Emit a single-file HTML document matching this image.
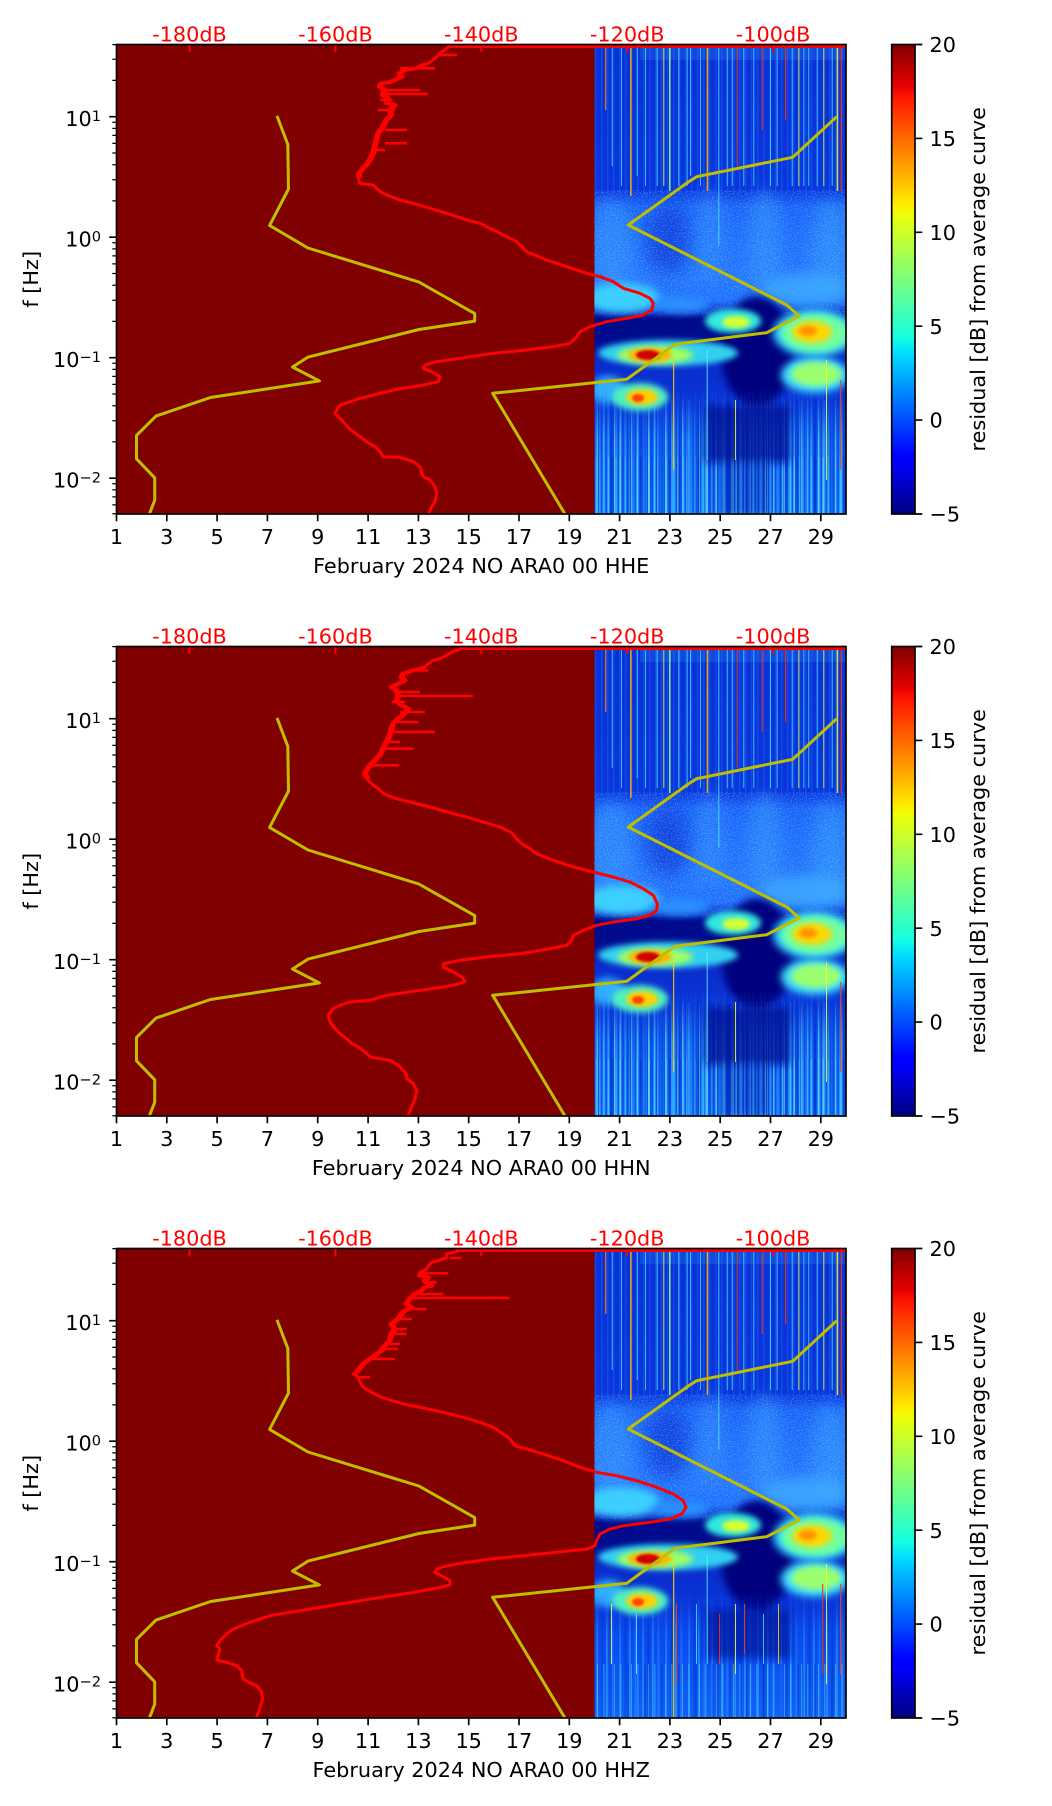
<!DOCTYPE html>
<html><head><meta charset="utf-8"><style>
html,body{margin:0;padding:0;background:#fff;}
svg{display:block;}
text{font-family:"DejaVu Sans","Liberation Sans",sans-serif;font-size:20.8px;}
</style></head><body>
<svg width="1052" height="1806" viewBox="0 0 1052 1806" xmlns="http://www.w3.org/2000/svg">
<defs>
<clipPath id="axclip"><rect x="116.5" y="44.5" width="729.5" height="469.5"/></clipPath>
<clipPath id="specclip"><rect x="594.4" y="44.5" width="251.6" height="469.5"/></clipPath>
<filter id="b1" x="-50%" y="-50%" width="200%" height="200%"><feGaussianBlur stdDeviation="1.2"/></filter>
<filter id="b2" x="-50%" y="-50%" width="200%" height="200%"><feGaussianBlur stdDeviation="2"/></filter>
<filter id="b3" x="-50%" y="-50%" width="200%" height="200%"><feGaussianBlur stdDeviation="3"/></filter>
<filter id="b4" x="-50%" y="-50%" width="200%" height="200%"><feGaussianBlur stdDeviation="4"/></filter>
<filter id="b6" x="-50%" y="-50%" width="200%" height="200%"><feGaussianBlur stdDeviation="6"/></filter>
<filter id="b8" x="-50%" y="-50%" width="200%" height="200%"><feGaussianBlur stdDeviation="8"/></filter>
<filter id="noiseL" x="0" y="0" width="100%" height="100%"><feTurbulence type="fractalNoise" baseFrequency="0.8" numOctaves="1" seed="5"/><feColorMatrix type="matrix" values="0 0 0 0 0.25  0 0 0 0 0.7  0 0 0 0 1  4 0 0 0 -2"/></filter>
<filter id="noiseD" x="0" y="0" width="100%" height="100%"><feTurbulence type="fractalNoise" baseFrequency="0.8" numOctaves="1" seed="11"/><feColorMatrix type="matrix" values="0 0 0 0 0  0 0 0 0 0.1  0 0 0 0 0.75  4 0 0 0 -2.1"/></filter>
<linearGradient id="specbg" x1="0" y1="44.5" x2="0" y2="514" gradientUnits="userSpaceOnUse">
<stop offset="0" stop-color="#0a2ed8"/>
<stop offset="0.31" stop-color="#0b34de"/>
<stop offset="0.345" stop-color="#1c64fa"/>
<stop offset="0.50" stop-color="#2878ff"/>
<stop offset="0.545" stop-color="#2070ff"/>
<stop offset="0.57" stop-color="#0a2ac0"/>
<stop offset="0.585" stop-color="#000a8a"/>
<stop offset="0.63" stop-color="#000c90"/>
<stop offset="0.68" stop-color="#0a2ccc"/>
<stop offset="0.77" stop-color="#0a36d8"/>
<stop offset="0.87" stop-color="#1262f0"/>
<stop offset="1" stop-color="#22a0ff"/>
</linearGradient>
<linearGradient id="fadeG" x1="0" y1="388" x2="0" y2="440" gradientUnits="userSpaceOnUse">
<stop offset="0" stop-color="#000"/>
<stop offset="1" stop-color="#fff"/>
</linearGradient>
<mask id="fadeLow" maskUnits="userSpaceOnUse" x="590" y="380" width="260" height="140">
<rect x="590" y="380" width="260" height="140" fill="url(#fadeG)"/>
</mask>
<linearGradient id="jet" x1="0" y1="1" x2="0" y2="0">
<stop offset="0" stop-color="#000080"/>
<stop offset="0.11" stop-color="#0000ff"/>
<stop offset="0.125" stop-color="#0000ff"/>
<stop offset="0.34" stop-color="#00dbff"/>
<stop offset="0.375" stop-color="#14ffe2"/>
<stop offset="0.5" stop-color="#7bff7b"/>
<stop offset="0.64" stop-color="#eeff08"/>
<stop offset="0.66" stop-color="#ffec00"/>
<stop offset="0.89" stop-color="#ff1300"/>
<stop offset="0.91" stop-color="#e80000"/>
<stop offset="1" stop-color="#800000"/>
</linearGradient>
<pattern id="streak" x="594.4" y="0" width="29" height="20" patternUnits="userSpaceOnUse">
<rect width="29" height="20" fill="#0a40e8"/>
<rect x="1" width="2" height="20" fill="#30c0ff"/>
<rect x="5" width="1" height="20" fill="#60e8ff"/>
<rect x="8" width="3" height="20" fill="#1a80ff"/>
<rect x="13" width="2" height="20" fill="#40d8ff"/>
<rect x="17" width="1" height="20" fill="#0020c0"/>
<rect x="20" width="3" height="20" fill="#30b0ff"/>
<rect x="25" width="1.5" height="20" fill="#70f0e0"/>
</pattern>
<pattern id="streak2" x="600" y="0" width="17" height="20" patternUnits="userSpaceOnUse">
<rect x="3" width="1.5" height="20" fill="#50e0ff"/>
<rect x="10" width="2" height="20" fill="#0030d0"/>
<rect x="14" width="1" height="20" fill="#80ffd0"/>
</pattern>
<pattern id="streakB" x="594.4" y="0" width="23" height="20" patternUnits="userSpaceOnUse">
<rect width="23" height="20" fill="#0848f0"/>
<rect x="2" width="1.5" height="20" fill="#2a90ff"/>
<rect x="7" width="2" height="20" fill="#0030d8"/>
<rect x="12" width="1" height="20" fill="#40c8ff"/>
<rect x="17" width="2" height="20" fill="#1a70ff"/>
</pattern>
<pattern id="topl" x="594.4" y="0" width="6" height="20" patternUnits="userSpaceOnUse">
<rect x="1" width="0.8" height="20" fill="#30c0ff"/>
</pattern>

<g id="spec" clip-path="url(#specclip)">
<rect x="594.4" y="44.5" width="251.6" height="469.5" fill="url(#specbg)"/>
<rect x="594.4" y="46" width="251.6" height="148" fill="url(#topl)" opacity="0.3"/>
<rect x="640" y="46" width="206" height="14" fill="#3aa0ff" opacity="0.22"/>
<!-- middle texture -->
<ellipse cx="612" cy="245" rx="22" ry="45" fill="#3a9cff" opacity=".55" filter="url(#b8)"/>
<ellipse cx="668" cy="240" rx="22" ry="35" fill="#0836d8" opacity=".7" filter="url(#b8)"/>
<ellipse cx="710" cy="235" rx="14" ry="45" fill="#3a98ff" opacity=".45" filter="url(#b8)"/>
<ellipse cx="765" cy="240" rx="16" ry="50" fill="#3aa0ff" opacity=".5" filter="url(#b8)"/>
<ellipse cx="830" cy="250" rx="18" ry="50" fill="#3aa8ff" opacity=".5" filter="url(#b8)"/>
<rect x="594.4" y="46" width="252" height="268" fill="#fff" filter="url(#noiseD)" opacity="0.45"/>
<rect x="594.4" y="190" width="252" height="125" fill="#fff" filter="url(#noiseL)" opacity="0.4"/>
<!-- cyan band -->
<ellipse cx="622" cy="298" rx="38" ry="15" fill="#3ccfff" filter="url(#b4)"/>
<ellipse cx="680" cy="305" rx="30" ry="8" fill="#2a90ff" filter="url(#b4)"/>
<ellipse cx="805" cy="290" rx="45" ry="16" fill="#40b0ff" opacity=".75" filter="url(#b6)"/>
<!-- navy middle -->
<ellipse cx="757" cy="352" rx="36" ry="56" fill="#00007e" filter="url(#b4)"/>
<!-- blobs -->
<ellipse cx="608" cy="390" rx="18" ry="14" fill="#30b0ff" filter="url(#b4)"/>
<ellipse cx="733" cy="321" rx="28" ry="12" fill="#30e8e0" filter="url(#b3)"/>
<ellipse cx="736" cy="322" rx="14" ry="6" fill="#d8ff30" filter="url(#b2)"/>
<ellipse cx="815" cy="333" rx="42" ry="24" fill="#30d0ff" filter="url(#b4)"/>
<ellipse cx="815" cy="333" rx="34" ry="19" fill="#70ffa0" filter="url(#b3)"/>
<ellipse cx="812" cy="332" rx="20" ry="11" fill="#ffd800" filter="url(#b3)"/>
<ellipse cx="808" cy="331" rx="9" ry="5" fill="#ff9000" filter="url(#b2)"/>
<ellipse cx="668" cy="353" rx="70" ry="13" fill="#30d0f0" filter="url(#b3)"/>
<ellipse cx="655" cy="355" rx="38" ry="9" fill="#a0ff60" filter="url(#b3)"/>
<ellipse cx="650" cy="355" rx="22" ry="7" fill="#ffb000" filter="url(#b2)"/>
<ellipse cx="648" cy="355" rx="12" ry="5" fill="#d00000" filter="url(#b1)"/>
<ellipse cx="815" cy="375" rx="34" ry="18" fill="#40e0ff" filter="url(#b4)"/>
<ellipse cx="816" cy="374" rx="25" ry="12" fill="#9cff70" filter="url(#b3)"/>
<!-- top vertical lines -->
<g opacity="0.85">
<rect x="605" y="46" width="1.3" height="64" fill="#ff8000"/>
<rect x="611.7" y="46" width="1" height="120" fill="#40e0ff"/>
<rect x="621" y="46" width="1" height="140" fill="#40d0ff"/>
<rect x="630" y="46" width="1.6" height="150" fill="#ffb000"/>
<rect x="636.7" y="46" width="1" height="130" fill="#40e0ff"/>
<rect x="645" y="46" width="1" height="140" fill="#40d0ff"/>
<rect x="656.7" y="46" width="1" height="140" fill="#40e0ff"/>
<rect x="663.3" y="46" width="1" height="140" fill="#e0ff40"/>
<rect x="669" y="46" width="1.6" height="145" fill="#a0ff80"/>
<rect x="678.3" y="46" width="1" height="140" fill="#40e0ff"/>
<rect x="686.7" y="46" width="1" height="140" fill="#40d0ff"/>
<rect x="690" y="46" width="1" height="130" fill="#40e0ff"/>
<rect x="700" y="46" width="1" height="140" fill="#40d0ff"/>
<rect x="706.7" y="46" width="1.6" height="145" fill="#ffc000"/>
<rect x="718.3" y="46" width="1" height="200" fill="#50e0ff"/>
<rect x="726.7" y="46" width="1" height="140" fill="#40d0ff"/>
<rect x="731.7" y="46" width="1" height="140" fill="#40e0ff"/>
<rect x="736.7" y="46" width="1" height="120" fill="#ff4000"/>
<rect x="743.3" y="46" width="1" height="140" fill="#40e0ff"/>
<rect x="753.3" y="46" width="1" height="140" fill="#40d0ff"/>
<rect x="761.7" y="46" width="1.2" height="84" fill="#ff3000"/>
<rect x="770" y="46" width="1" height="140" fill="#40e0ff"/>
<rect x="776.7" y="46" width="1" height="140" fill="#40d0ff"/>
<rect x="785" y="46" width="1.2" height="74" fill="#ff3000"/>
<rect x="791.7" y="46" width="1" height="140" fill="#40e0ff"/>
<rect x="798.3" y="46" width="1" height="140" fill="#e0ff40"/>
<rect x="803.3" y="46" width="1" height="140" fill="#40d0ff"/>
<rect x="808.3" y="46" width="1" height="140" fill="#40e0ff"/>
<rect x="816.7" y="46" width="1" height="140" fill="#40d0ff"/>
<rect x="823.3" y="46" width="1" height="140" fill="#e0ff40"/>
<rect x="831.7" y="46" width="1" height="140" fill="#40e0ff"/>
<rect x="836.7" y="46" width="1.5" height="145" fill="#f0ff30"/>
<rect x="840.7" y="46" width="1.3" height="145" fill="#ff3000"/>
</g>
</g>

<g id="lowerA" clip-path="url(#specclip)">
<g mask="url(#fadeLow)">
<rect x="594.4" y="388" width="252" height="126" fill="url(#streak)" opacity="0.5"/>
<rect x="594.4" y="457" width="252" height="57" fill="url(#streak)" opacity="0.5"/>
<rect x="594.4" y="400" width="252" height="114" fill="url(#streak2)" opacity="0.5"/>
</g>
<rect x="705" y="405" width="85" height="58" fill="#000a90" opacity=".75" filter="url(#b4)"/>
<rect x="720" y="463" width="50" height="51" fill="#0010a0" opacity=".35" filter="url(#b3)"/>
<ellipse cx="640" cy="397" rx="28" ry="14" fill="#50f0c0" filter="url(#b3)"/>
<ellipse cx="642" cy="397" rx="16" ry="8" fill="#ffd000" filter="url(#b2)"/>
<ellipse cx="638" cy="398" rx="6" ry="4" fill="#ff4000" filter="url(#b1)"/>
<g opacity="0.85">
<rect x="673" y="360" width="1.2" height="110" fill="#ffd000"/>
<rect x="706.7" y="350" width="1" height="110" fill="#60f0ff"/>
<rect x="735" y="400" width="1" height="60" fill="#f0ff40"/>
<rect x="826" y="360" width="1" height="120" fill="#f0ff40"/>
<rect x="840" y="380" width="1.2" height="90" fill="#ff4000"/>
</g>
</g>

<g id="lowerB" clip-path="url(#specclip)">
<g mask="url(#fadeLow)">
<rect x="594.4" y="388" width="252" height="126" fill="url(#streakB)" opacity="0.7"/>
<rect x="594.4" y="460" width="252" height="54" fill="url(#streak2)" opacity="0.35"/>
</g>
<rect x="705" y="405" width="85" height="50" fill="#000a90" opacity=".6" filter="url(#b4)"/>
<ellipse cx="640" cy="397" rx="28" ry="14" fill="#50f0c0" filter="url(#b3)"/>
<ellipse cx="642" cy="397" rx="16" ry="8" fill="#ffd000" filter="url(#b2)"/>
<ellipse cx="638" cy="398" rx="6" ry="4" fill="#ff4000" filter="url(#b1)"/>
<g opacity="0.85">
<rect x="611" y="400" width="1" height="60" fill="#f0ff40"/>
<rect x="636" y="410" width="1" height="60" fill="#60f0ff"/>
<rect x="673" y="360" width="1.3" height="154" fill="#ffd000"/>
<rect x="676" y="400" width="1" height="80" fill="#ff4000"/>
<rect x="696" y="400" width="1" height="60" fill="#40e0ff"/>
<rect x="706.7" y="350" width="1" height="110" fill="#60f0ff"/>
<rect x="719" y="410" width="1" height="50" fill="#ff3000"/>
<rect x="735" y="400" width="1" height="70" fill="#f0ff40"/>
<rect x="744" y="400" width="1" height="50" fill="#ff4000"/>
<rect x="763" y="410" width="1" height="50" fill="#40e0ff"/>
<rect x="778" y="400" width="1" height="60" fill="#ffd000"/>
<rect x="826" y="360" width="1" height="120" fill="#f0ff40"/>
<rect x="822" y="380" width="1.2" height="90" fill="#ff3000"/>
<rect x="840" y="380" width="1.2" height="90" fill="#ff4000"/>
</g>
</g>

<path id="ticks" d="M116.5 514V521.3M166.8 514V521.3M217.1 514V521.3M267.4 514V521.3M317.7 514V521.3M368.1 514V521.3M418.4 514V521.3M468.7 514V521.3M519 514V521.3M569.3 514V521.3M619.6 514V521.3M669.9 514V521.3M720.2 514V521.3M770.5 514V521.3M820.8 514V521.3M109.2 116.7H116.5M109.2 237.2H116.5M109.2 357.7H116.5M109.2 478.2H116.5M915 44.5H922.3M915 138.4H922.3M915 232.3H922.3M915 326.2H922.3M915 420.1H922.3M915 514H922.3" stroke="#000" stroke-width="1.67" fill="none"/>
<path id="minor" d="M112.3 80.4H116.5M112.3 59.2H116.5M112.3 44.6H116.5M112.3 200.9H116.5M112.3 179.7H116.5M112.3 164.7H116.5M112.3 153H116.5M112.3 143.4H116.5M112.3 135.4H116.5M112.3 128.4H116.5M112.3 122.2H116.5M112.3 321.4H116.5M112.3 300.2H116.5M112.3 285.2H116.5M112.3 273.5H116.5M112.3 263.9H116.5M112.3 255.9H116.5M112.3 248.9H116.5M112.3 242.7H116.5M112.3 441.9H116.5M112.3 420.7H116.5M112.3 405.7H116.5M112.3 394H116.5M112.3 384.4H116.5M112.3 376.4H116.5M112.3 369.4H116.5M112.3 363.2H116.5M112.3 504.9H116.5M112.3 496.9H116.5M112.3 489.9H116.5M112.3 483.7H116.5M112.3 513.8H116.5" stroke="#000" stroke-width="1.25" fill="none"/>
<path id="redticks" d="M189.5 44.5V52M335.4 44.5V52M481.3 44.5V52M627.2 44.5V52M773.1 44.5V52" stroke="#ff0000" stroke-width="2" fill="none"/>
<g id="yellow" fill="none" stroke="#bfbf00" stroke-width="3" stroke-linejoin="round">
<polyline points="277,115.9 287.8,144.4 288.5,189 269.6,225.4 308,248 418.9,282 474.7,313.6 474.7,321.1 418.9,329.5 308,357.1 292.5,367 319.4,380.9 210.5,397.5 156,416.1 136.5,435.4 136.5,458.8 154.7,477.8 154.7,500.3 149.3,514.2 148,518"/>
<polyline points="836.7,116.7 792.7,157.3 696.7,176.7 688.3,182 628.3,225 786.7,305 799.3,316 766.7,332.7 675,344.3 626.7,379.3 492.7,393.3 565,514 567,518"/>
</g>
</defs>

<!-- ================= PLOT 1 ================= -->
<g>
<rect x="116.5" y="44.5" width="729.5" height="469.5" fill="#800000"/>
<use href="#spec"/>
<use href="#lowerA"/>
<g clip-path="url(#axclip)">
<use href="#yellow"/>
<g fill="none" stroke="#ff0000" stroke-width="3" stroke-linejoin="round">
<polyline points="846,46.5 448.3,46.5 448.3,47.3 441.7,51.7 438.3,55 435,58.3 428.3,63.3 421.7,65 415,68.3 403.3,70 398.3,73.3 400,76.7 393.3,80 386.7,82.7 380,83.3 378.3,86.7 383.3,90 381.7,95 386.7,98.3 385,103.3 393.3,105 388.3,110 390,115 385,120 381.7,126.7 376.7,133.3 375,140 373.3,146.7 371.7,153.3 368.3,160 365,165 361.7,168.3 360,170 357.5,174 358,178 360,183.3 373.3,185 380,191.7 386.7,195 400,200 413.3,203.3 430,208.3 446.7,213.3 466.7,220 480,223.3 493.3,230 506.7,236.7 516.7,241.7 520,245 523.3,248.3 526.7,251.7 546.7,260 566.7,266.7 586.7,273.3 600,276.7 613.3,281.7 623.3,288.3 640,293.3 650,298.3 653.3,303.3 651.7,310 643.3,315 626.7,318.3 606.7,321.7 590,326.7 580,331.7 576.7,336.7 570,343.3 553.3,346.7 526.7,350 493.3,353.3 460,358.3 436.7,361.7 425,365 423.3,368.3 431.7,371.7 440,376.7 438.3,381.7 423.3,385 393.3,390 373.3,395 360,398.3 339.6,405.4 334.9,413.3 342.9,421.2 349.7,429.1 360,436.7 366.7,441.7 375,446.7 380,451.7 383.3,456.7 400,457.3 413.3,461.7 420,466.7 421.7,473.3 423.3,476.7 430,480 435,486.7 436.7,493.3 435,501.7 431.7,506.7 428.3,514 427,518"/>
<polyline transform="translate(2.5,0)" stroke-width="3.5" points="421.7,65 415,68.3 403.3,70 398.3,73.3 400,76.7 393.3,80 386.7,82.7 380,83.3 378.3,86.7 383.3,90 381.7,95 386.7,98.3 385,103.3 393.3,105 388.3,110 390,115 385,120 381.7,126.7 376.7,133.3 375,140 373.3,146.7 371.7,153.3 368.3,160 365,165 361.7,168.3 360,170 357.5,174 358,178"/>
<path d="M380 90H420M380 94H428M385 130H407M385 143.3H407M400 68.3H435M440 55H457M378 110H395M372 150H385M380 100H392" stroke-width="2.6"/>
</g>
</g>
<use href="#redticks"/>
<rect x="116.5" y="44.5" width="729.5" height="469.5" fill="none" stroke="#000" stroke-width="1.67"/>
<use href="#ticks"/>
<use href="#minor"/>
<rect x="891.7" y="44.5" width="23.3" height="469.5" fill="url(#jet)" stroke="#000" stroke-width="1.67"/>
<g fill="#ff0000" text-anchor="middle">
<text x="189.5" y="41.5">-180dB</text><text x="335.4" y="41.5">-160dB</text><text x="481.3" y="41.5">-140dB</text><text x="627.2" y="41.5">-120dB</text><text x="773.1" y="41.5">-100dB</text>
</g>
<g text-anchor="middle" fill="#000">
<text x="116.5" y="544">1</text><text x="166.8" y="544">3</text><text x="217.1" y="544">5</text><text x="267.4" y="544">7</text><text x="317.7" y="544">9</text><text x="368.1" y="544">11</text><text x="418.4" y="544">13</text><text x="468.7" y="544">15</text><text x="519" y="544">17</text><text x="569.3" y="544">19</text><text x="619.6" y="544">21</text><text x="669.9" y="544">23</text><text x="720.2" y="544">25</text><text x="770.5" y="544">27</text><text x="820.8" y="544">29</text>
<text x="481.2" y="573">February 2024 NO ARA0 00 HHE</text>
<text transform="translate(38,279.3) rotate(-90)">f [Hz]</text>
<text transform="translate(985,279.3) rotate(-90)">residual [dB] from average curve</text>
</g>
<g text-anchor="end" fill="#000">
<text x="101" y="126">10<tspan font-size="14.6" dy="-5">1</tspan></text>
<text x="101" y="246.5">10<tspan font-size="14.6" dy="-5">0</tspan></text>
<text x="101" y="367">10<tspan font-size="14.6" dy="-5">−1</tspan></text>
<text x="101" y="487.5">10<tspan font-size="14.6" dy="-5">−2</tspan></text>
</g>
<g fill="#000">
<text x="929.5" y="52.1">20</text><text x="929.5" y="146">15</text><text x="929.5" y="239.9">10</text><text x="929.5" y="333.8">5</text><text x="929.5" y="427.7">0</text><text x="929.5" y="521.6">−5</text>
</g>
</g>

<!-- ================= PLOT 2 ================= -->
<g transform="translate(0,602)">
<rect x="116.5" y="44.5" width="729.5" height="469.5" fill="#800000"/>
<use href="#spec"/>
<use href="#lowerA"/>
<g clip-path="url(#axclip)">
<use href="#yellow"/>
<g fill="none" stroke="#ff0000" stroke-width="3" stroke-linejoin="round">
<polyline points="846,46.5 460,46.5 460,47.3 451.7,50 446.7,53.3 440,56.7 433.3,58.3 428.3,61.7 425,65 418.3,66.7 411.7,68.3 406.7,70 401.7,71.7 400,75 403.3,78.3 396.7,81.7 390,85 395,88.3 396.7,93.3 395,98.3 400,103.3 406.7,106.7 403.3,111.7 396.7,116.7 391.7,121.7 390,126.7 388.3,133.3 385,140 381.7,146.7 378.3,153.3 373.3,158.3 368.3,163.3 365,168.3 363.3,171.7 366.7,176.7 370,180 373.3,183.3 378.3,186.7 381.7,190 386.7,193.3 396.7,196.7 410,200 430,205 453.3,211.7 466.7,215 483.3,220 500,225 511.7,230.7 516.7,236.7 521.7,241.7 530,246.7 536.7,251.7 553.3,258.3 573.3,265 593.3,270 613.3,275 630,280 643.3,286.7 653.3,293.3 657.3,301.7 656.7,308.3 650,313.3 636.7,316.7 613.3,320 596.7,323.3 583.3,328.3 573.3,333.3 571.7,338.3 566.7,343.3 550,346.7 520,351.7 486.7,355 460,358.3 443.3,361.7 443.3,365 453.3,370 461.7,375 465,379.3 460,381.7 443.3,385 420,388.3 386.7,393.3 370,398.3 350,400 340,403.3 333.3,406.7 328.3,413.3 330,420 335,426.7 340,431.7 346.7,436.7 351.7,441.7 358.3,445 365,450 370,455 380,456.7 390,458.3 398.3,463.3 403.3,468.3 406.7,473.3 406.7,476.7 413.3,481.7 416.7,488.3 415,496.7 411.7,505 408.3,513.3 407,518"/>
<polyline transform="translate(2.5,0)" stroke-width="3.5" points="411.7,68.3 406.7,70 401.7,71.7 400,75 403.3,78.3 396.7,81.7 390,85 395,88.3 396.7,93.3 395,98.3 400,103.3 406.7,106.7 403.3,111.7 396.7,116.7 391.7,121.7 390,126.7 388.3,133.3 385,140 381.7,146.7 378.3,153.3 373.3,158.3 368.3,163.3 365,168.3 363.3,171.7 366.7,176.7"/>
<path d="M396.7 94H473.3M395 90H420M400 110H425M395 120H418.3M390 130H435M383 146.7H413.3M368 163.3H399.3M410 68.3H428.3M392 100H405M386 140H400" stroke-width="2.6"/>
</g>
</g>
<use href="#redticks"/>
<rect x="116.5" y="44.5" width="729.5" height="469.5" fill="none" stroke="#000" stroke-width="1.67"/>
<use href="#ticks"/>
<use href="#minor"/>
<rect x="891.7" y="44.5" width="23.3" height="469.5" fill="url(#jet)" stroke="#000" stroke-width="1.67"/>
<g fill="#ff0000" text-anchor="middle">
<text x="189.5" y="41.5">-180dB</text><text x="335.4" y="41.5">-160dB</text><text x="481.3" y="41.5">-140dB</text><text x="627.2" y="41.5">-120dB</text><text x="773.1" y="41.5">-100dB</text>
</g>
<g text-anchor="middle" fill="#000">
<text x="116.5" y="544">1</text><text x="166.8" y="544">3</text><text x="217.1" y="544">5</text><text x="267.4" y="544">7</text><text x="317.7" y="544">9</text><text x="368.1" y="544">11</text><text x="418.4" y="544">13</text><text x="468.7" y="544">15</text><text x="519" y="544">17</text><text x="569.3" y="544">19</text><text x="619.6" y="544">21</text><text x="669.9" y="544">23</text><text x="720.2" y="544">25</text><text x="770.5" y="544">27</text><text x="820.8" y="544">29</text>
<text x="481.2" y="573">February 2024 NO ARA0 00 HHN</text>
<text transform="translate(38,279.3) rotate(-90)">f [Hz]</text>
<text transform="translate(985,279.3) rotate(-90)">residual [dB] from average curve</text>
</g>
<g text-anchor="end" fill="#000">
<text x="101" y="126">10<tspan font-size="14.6" dy="-5">1</tspan></text>
<text x="101" y="246.5">10<tspan font-size="14.6" dy="-5">0</tspan></text>
<text x="101" y="367">10<tspan font-size="14.6" dy="-5">−1</tspan></text>
<text x="101" y="487.5">10<tspan font-size="14.6" dy="-5">−2</tspan></text>
</g>
<g fill="#000">
<text x="929.5" y="52.1">20</text><text x="929.5" y="146">15</text><text x="929.5" y="239.9">10</text><text x="929.5" y="333.8">5</text><text x="929.5" y="427.7">0</text><text x="929.5" y="521.6">−5</text>
</g>
</g>

<!-- ================= PLOT 3 ================= -->
<g transform="translate(0,1204)">
<rect x="116.5" y="44.5" width="729.5" height="469.5" fill="#800000"/>
<use href="#spec"/>
<use href="#lowerB"/>
<g clip-path="url(#axclip)">
<use href="#yellow"/>
<g fill="none" stroke="#ff0000" stroke-width="3" stroke-linejoin="round">
<polyline points="846,46.5 456.7,46.5 456.7,47.3 446.7,50 446.7,53.3 438.3,56.7 431.7,58.3 428.3,61.7 426.7,65 420,68.3 418.3,71.7 426.7,73.3 423.3,76.7 430,81.7 423.3,83.3 420,86.7 413.3,90 410,93.3 406.7,96.7 405,100 410,103.3 403.3,106.7 400,110 396.7,115 390,120 393.3,125 390,130 388.3,136.7 383.3,141.7 380,146.7 373.3,151.7 368.3,155 361.7,160 356.7,166.7 353.3,170 358.3,173.3 360,178.3 363.3,183.3 371.7,188.3 381.7,193.3 390,196 403.3,200 423.3,204 443.3,208.3 463.3,213.3 480,218.3 493.3,223.3 503.3,230 510,235 515,241.7 526.7,245 543.3,250 563.3,256.7 580,263.3 596.7,268.3 616.7,271.7 636.7,276.7 656.7,283.3 673.3,290 683.3,296.7 686,303.3 681.7,310 670,315 650,318.3 623.3,321.7 610,325 600,330 596.7,336.7 595,341.7 586.7,345 556.7,348.3 523.3,351.7 490,355 456.7,360 443.3,362.7 436.7,365 435,368.3 443.3,372.7 450,376.7 450,380.7 440,383.3 423.3,386.7 403.3,390 376.7,394 350,398.3 316.7,404 290,408.3 270,411.7 250,418.3 233.3,425 226.7,430 220,436.7 216.7,441.7 220,445 216.7,456 226.7,458.3 236.7,461.7 241.7,466.7 243.3,475 248.3,478.3 256.7,481.7 261.7,488.3 262.7,495 260,503.3 256.7,513.3 255,518"/>
<polyline transform="translate(2.5,0)" stroke-width="3.5" points="420,68.3 418.3,71.7 426.7,73.3 423.3,76.7 430,81.7 423.3,83.3 420,86.7 413.3,90 410,93.3 406.7,96.7 405,100 410,103.3 403.3,106.7 400,110 396.7,115 390,120 393.3,125 390,130 388.3,136.7 383.3,141.7 380,146.7 373.3,151.7 368.3,155 361.7,160 356.7,166.7 353.3,170"/>
<path d="M410 94H509.3M413 90H443.3M420 69.3H448.3M423 78.3H436.7M405 105H426.7M393 125H406.7M390 130H406.7M388 140H400M373 155H395M358 173.3H370M450 54H461.7M400 115H412M385 145H398" stroke-width="2.6"/>
</g>
</g>
<use href="#redticks"/>
<rect x="116.5" y="44.5" width="729.5" height="469.5" fill="none" stroke="#000" stroke-width="1.67"/>
<use href="#ticks"/>
<use href="#minor"/>
<rect x="891.7" y="44.5" width="23.3" height="469.5" fill="url(#jet)" stroke="#000" stroke-width="1.67"/>
<g fill="#ff0000" text-anchor="middle">
<text x="189.5" y="41.5">-180dB</text><text x="335.4" y="41.5">-160dB</text><text x="481.3" y="41.5">-140dB</text><text x="627.2" y="41.5">-120dB</text><text x="773.1" y="41.5">-100dB</text>
</g>
<g text-anchor="middle" fill="#000">
<text x="116.5" y="544">1</text><text x="166.8" y="544">3</text><text x="217.1" y="544">5</text><text x="267.4" y="544">7</text><text x="317.7" y="544">9</text><text x="368.1" y="544">11</text><text x="418.4" y="544">13</text><text x="468.7" y="544">15</text><text x="519" y="544">17</text><text x="569.3" y="544">19</text><text x="619.6" y="544">21</text><text x="669.9" y="544">23</text><text x="720.2" y="544">25</text><text x="770.5" y="544">27</text><text x="820.8" y="544">29</text>
<text x="481.2" y="573">February 2024 NO ARA0 00 HHZ</text>
<text transform="translate(38,279.3) rotate(-90)">f [Hz]</text>
<text transform="translate(985,279.3) rotate(-90)">residual [dB] from average curve</text>
</g>
<g text-anchor="end" fill="#000">
<text x="101" y="126">10<tspan font-size="14.6" dy="-5">1</tspan></text>
<text x="101" y="246.5">10<tspan font-size="14.6" dy="-5">0</tspan></text>
<text x="101" y="367">10<tspan font-size="14.6" dy="-5">−1</tspan></text>
<text x="101" y="487.5">10<tspan font-size="14.6" dy="-5">−2</tspan></text>
</g>
<g fill="#000">
<text x="929.5" y="52.1">20</text><text x="929.5" y="146">15</text><text x="929.5" y="239.9">10</text><text x="929.5" y="333.8">5</text><text x="929.5" y="427.7">0</text><text x="929.5" y="521.6">−5</text>
</g>
</g>
</svg>
</body></html>
